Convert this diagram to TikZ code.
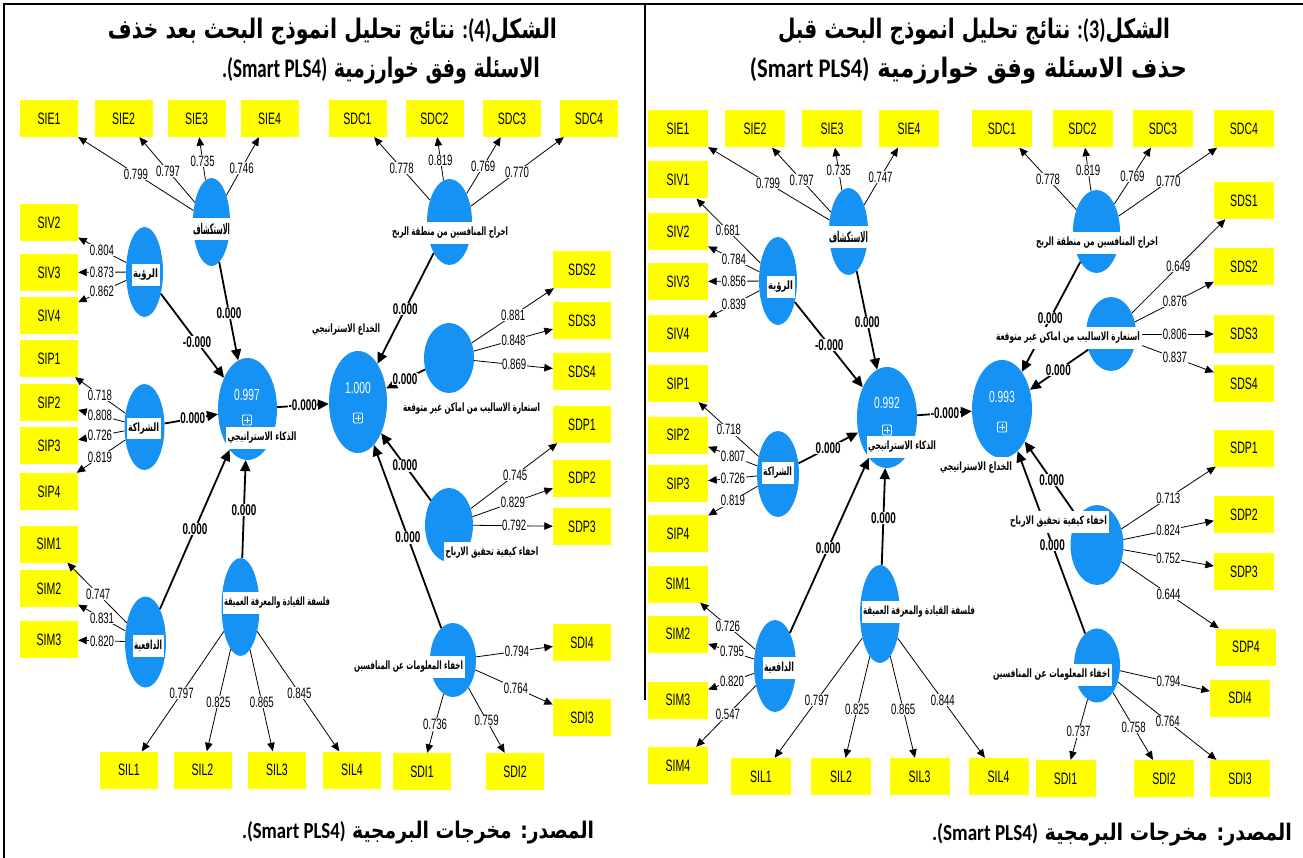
\documentclass[tikz,border=0pt]{standalone}
\usepackage{fontspec}
\usepackage{graphicx}
\usetikzlibrary{shapes.geometric,arrows.meta,calc}
\TeXXeTstate=1
\setmainfont{Liberation Sans}
\newfontfamily\arabicfont[Script=Arabic]{DejaVu Sans}
\newfontfamily\narrowfont[FakeStretch=0.64]{Liberation Sans}
\newfontfamily\titlelat{Carlito}
\definecolor{latblue}{RGB}{22,146,245}
\definecolor{indyellow}{RGB}{255,255,0}
\newcommand\ar[1]{{\arabicfont\bfseries #1}}
\newcommand\lbx[2]{\resizebox*{#1pt}{11.5pt}{\ar{#2}}}
\newcommand\lt[1]{{\titlelat\bfseries #1}}
\newcommand\mlink[4]{\draw[indarrow] (#1) -- (#2); \path (#1.center) -- (#2.center) node[numlbl,pos=#3]{#4};}
\newcommand\slink[4]{\draw[strarrow] (#1) -- (#2); \path (#1.center) -- (#2.center) node[boldlbl,pos=#3]{#4};}
\newcommand\plusicon[1]{\draw[white,line width=0.8pt,rounded corners=1pt] ([shift={(-4.5,-5)}]#1) rectangle ([shift={(4.5,5)}]#1); \draw[white,line width=0.8pt] ([shift={(-2.6,0)}]#1) -- ([shift={(2.6,0)}]#1) ([shift={(0,-2.8)}]#1) -- ([shift={(0,2.8)}]#1);}
\tikzset{
  ybox/.style={fill=indyellow, minimum width=58pt, minimum height=37pt, inner sep=0pt, font=\narrowfont\fontsize{16.5}{16.5}\selectfont},
  rbox/.style={ybox, minimum width=60pt},
  lat/.style={ellipse, fill=latblue, inner sep=0pt},
  latlbl/.style={fill=white, inner xsep=1.5pt, inner ysep=5pt},
  numlbl/.style={fill=white, inner sep=0.6pt, font=\narrowfont\fontsize{15}{15}\selectfont},
  boldlbl/.style={fill=white, inner sep=0.6pt, font=\narrowfont\bfseries\fontsize{15.5}{15.5}\selectfont},
  indarrow/.style={line width=0.8pt, -{Triangle[length=8.5pt,width=7.5pt]}},
  strarrow/.style={line width=1.8pt, -{Triangle[length=11pt,width=10pt]}},
  rsq/.style={text=white, inner sep=0pt, font=\narrowfont\fontsize{16}{16}\selectfont},
  ttl/.style={inner sep=0pt, font=\fontsize{18}{18}\selectfont}
}
\begin{document}
\begin{tikzpicture}[x=1pt,y=-1pt]
\useasboundingbox (0,0) rectangle (1303,858);
\fill[white] (0,0) rectangle (1303,858);
% frame
\draw[line width=2.2pt] (4,858) -- (4,4) -- (1303,4);
\draw[line width=2.2pt] (645,4) -- (645,700);
% titles
\node[ttl] (tl1) at (332.5,32) {\resizebox*{449pt}{27pt}{\ar{\beginR الشكل\beginL\lt{:(4)}\endL{} نتائج تحليل انموذج البحث بعد خذف\endR}}};
\node[ttl] (tl2) at (381,71) {\resizebox*{318pt}{27pt}{\ar{\beginR الاسئلة وفق خوارزمية \beginL\lt{.(Smart PLS4)}\endL\endR}}};
\node[ttl] (tr1) at (974,32) {\resizebox*{392pt}{27pt}{\ar{\beginR الشكل\beginL\lt{:(3)}\endL{} نتائج تحليل انموذج البحث قبل\endR}}};
\node[ttl] (tr2) at (968.5,71) {\resizebox*{437pt}{27pt}{\ar{\beginR حذف الاسئلة وفق خوارزمية \beginL\lt{(Smart PLS4)}\endL\endR}}};
\node[ttl] (fl) at (418,833) {\resizebox*{352pt}{23pt}{\ar{\beginR المصدر\kern0pt: مخرجات البرمجية \beginL\lt{.(Smart PLS4)}\endL\endR}}};
\node[ttl] (fr) at (1112,835) {\resizebox*{360pt}{23pt}{\ar{\beginR المصدر\kern0pt: مخرجات البرمجية \beginL\lt{.(Smart PLS4)}\endL\endR}}};
% ===== LEFT PANEL =====
\node[ybox] (LSIE1) at (49,118.5) {SIE1};
\node[ybox] (LSIE2) at (123.5,118.5) {SIE2};
\node[ybox] (LSIE3) at (196.5,118.5) {SIE3};
\node[ybox] (LSIE4) at (269.5,118.5) {SIE4};
\node[ybox] (LSDC1) at (357.5,118.5) {SDC1};
\node[ybox] (LSDC2) at (434.5,118.5) {SDC2};
\node[ybox] (LSDC3) at (512,118.5) {SDC3};
\node[ybox] (LSDC4) at (589,118.5) {SDC4};
\node[ybox] (LSIV2) at (49,222.5) {SIV2};
\node[ybox] (LSIV3) at (49,272.5) {SIV3};
\node[ybox] (LSIV4) at (49,315.5) {SIV4};
\node[ybox] (LSIP1) at (49,358.5) {SIP1};
\node[ybox] (LSIP2) at (49,402.5) {SIP2};
\node[ybox] (LSIP3) at (49,445.5) {SIP3};
\node[ybox] (LSIP4) at (49,491.5) {SIP4};
\node[ybox] (LSIM1) at (49,544) {SIM1};
\node[ybox] (LSIM2) at (49,588.5) {SIM2};
\node[ybox] (LSIM3) at (49,639.5) {SIM3};
\node[ybox] (LSIL1) at (129,770) {SIL1};
\node[ybox] (LSIL2) at (202.5,770) {SIL2};
\node[ybox] (LSIL3) at (277,770) {SIL3};
\node[ybox] (LSIL4) at (352,770) {SIL4};
\node[ybox] (LSDI1) at (422,771.5) {SDI1};
\node[ybox] (LSDI2) at (515,771.5) {SDI2};
\node[ybox] (LSDS2) at (582,269.5) {SDS2};
\node[ybox] (LSDS3) at (582,321) {SDS3};
\node[ybox] (LSDS4) at (582,371.5) {SDS4};
\node[ybox] (LSDP1) at (582,424.5) {SDP1};
\node[ybox] (LSDP2) at (582,478) {SDP2};
\node[ybox] (LSDP3) at (582,526.5) {SDP3};
\node[ybox] (LSDI4) at (582,642.5) {SDI4};
\node[ybox] (LSDI3) at (582,717.5) {SDI3};
\node[lat,minimum width=37pt,minimum height=88pt] (LEXP) at (211.5,222) {};
\node[lat,minimum width=37pt,minimum height=90pt] (LVIS) at (144.5,272) {};
\node[lat,minimum width=40pt,minimum height=86pt] (LPAR) at (144.5,427) {};
\node[lat,minimum width=59pt,minimum height=102pt] (LSIN) at (247.5,409) {};
\node[lat,minimum width=58pt,minimum height=102pt] (LSDE) at (358,402) {};
\node[lat,minimum width=45pt,minimum height=86pt] (LSDC) at (449.5,222) {};
\node[lat,minimum width=50pt,minimum height=70pt] (LSDS) at (449,358) {};
\node[lat,minimum width=48pt,minimum height=74pt] (LSDP) at (449,525) {};
\node[lat,minimum width=46pt,minimum height=74pt] (LSDI) at (453,660) {};
\node[lat,minimum width=38pt,minimum height=98pt] (LSIL) at (240.5,607) {};
\node[lat,minimum width=41pt,minimum height=91pt] (LSIM) at (145.5,642) {};
\node[rsq] (LSINr) at (247,395) {0.997};
\coordinate (LSINp) at (247,420); \plusicon{LSINp}
\node[rsq] (LSDEr) at (358,388) {1.000};
\coordinate (LSDEp) at (358,418); \plusicon{LSDEp}
\mlink{LEXP}{LSIE1}{0.465}{0.799}
\mlink{LEXP}{LSIE2}{0.494}{0.797}
\mlink{LEXP}{LSIE3}{0.59}{0.735}
\mlink{LEXP}{LSIE4}{0.52}{0.746}
\mlink{LVIS}{LSIV2}{0.445}{0.804}
\mlink{LVIS}{LSIV3}{0.445}{0.873}
\mlink{LVIS}{LSIV4}{0.445}{0.862}
\mlink{LPAR}{LSIP1}{0.466}{0.718}
\mlink{LPAR}{LSIP2}{0.466}{0.808}
\mlink{LPAR}{LSIP3}{0.466}{0.726}
\mlink{LPAR}{LSIP4}{0.466}{0.819}
\mlink{LSIM}{LSIM1}{0.49}{0.747}
\mlink{LSIM}{LSIM2}{0.45}{0.831}
\mlink{LSIM}{LSIM3}{0.45}{0.820}
\mlink{LSIL}{LSIL1}{0.528}{0.797}
\mlink{LSIL}{LSIL2}{0.583}{0.825}
\mlink{LSIL}{LSIL3}{0.583}{0.865}
\mlink{LSIL}{LSIL4}{0.528}{0.845}
\mlink{LSDI}{LSDI1}{0.58}{0.736}
\mlink{LSDI}{LSDI2}{0.542}{0.759}
\mlink{LSDI}{LSDI4}{0.496}{0.794}
\mlink{LSDI}{LSDI3}{0.488}{0.764}
\mlink{LSDC}{LSDC1}{0.52}{0.778}
\mlink{LSDC}{LSDC2}{0.6}{0.819}
\mlink{LSDC}{LSDC3}{0.54}{0.769}
\mlink{LSDC}{LSDC4}{0.484}{0.770}
\mlink{LSDS}{LSDS2}{0.483}{0.881}
\mlink{LSDS}{LSDS3}{0.485}{0.848}
\mlink{LSDS}{LSDS4}{0.49}{0.869}
\mlink{LSDP}{LSDP1}{0.498}{0.745}
\mlink{LSDP}{LSDP2}{0.48}{0.829}
\mlink{LSDP}{LSDP3}{0.49}{0.792}
\slink{LEXP}{LSIN}{0.485}{0.000}
\slink{LVIS}{LSIN}{0.51}{-0.000}
\slink{LPAR}{LSIN}{0.468}{0.000}
\slink{LSIM}{LSIN}{0.485}{0.000}
\slink{LSIL}{LSIN}{0.49}{0.000}
\slink{LSIN}{LSDE}{0.5}{-0.000}
\slink{LSDC}{LSDE}{0.483}{0.000}
\slink{LSDS}{LSDE}{0.483}{0.000}
\slink{LSDP}{LSDE}{0.483}{0.000}
\slink{LSDI}{LSDE}{0.475}{0.000}
\node[latlbl] (LEXPl) at (211.5,229) {\lbx{37}{\beginR الاستكشاف\endR}};
\node[latlbl] (LVISl) at (145.5,275) {\lbx{25}{\beginR الرؤية\endR}};
\node[latlbl] (LPARl) at (143.5,428.5) {\lbx{31}{\beginR الشراكة\endR}};
\node[latlbl] (LSINl) at (262,438) {\lbx{69}{\beginR الذكاء الاستراتيجي\endR}};
\node[latlbl] (LSDEl) at (346,330) {\lbx{68}{\beginR الخداع الاستراتيجي\endR}};
\node[latlbl] (LSDCl) at (450,233) {\lbx{116}{\beginR اخراج المنافسين من منطقة الربح\endR}};
\node[latlbl] (LSDSl) at (471.5,409) {\lbx{137}{\beginR استعارة الاساليب من اماكن غير متوقعة\endR}};
\node[latlbl] (LSDPl) at (492,553) {\lbx{93}{\beginR اخفاء كيفية تحقيق الارباح\endR}};
\node[latlbl] (LSDIl) at (408.5,667) {\lbx{109}{\beginR اخفاء المعلومات عن المنافسين\endR}};
\node[latlbl] (LSILl) at (277,603) {\lbx{106}{\beginR فلسفة القيادة والمعرفة العميقة\endR}};
\node[latlbl] (LSIMl) at (148,646) {\lbx{28}{\beginR الدافعية\endR}};
% ===== RIGHT PANEL =====
\node[rbox] (RSIE1) at (678,129) {SIE1};
\node[rbox] (RSIE2) at (755,129) {SIE2};
\node[rbox] (RSIE3) at (832,129) {SIE3};
\node[rbox] (RSIE4) at (909,129) {SIE4};
\node[rbox] (RSDC1) at (1002,129) {SDC1};
\node[rbox] (RSDC2) at (1082.5,129) {SDC2};
\node[rbox] (RSDC3) at (1163,129) {SDC3};
\node[rbox] (RSDC4) at (1244,129) {SDC4};
\node[rbox] (RSIV1) at (678,180) {SIV1};
\node[rbox] (RSIV2) at (678,231.5) {SIV2};
\node[rbox] (RSIV3) at (678,281.5) {SIV3};
\node[rbox] (RSIV4) at (678,333.5) {SIV4};
\node[rbox] (RSIP1) at (678,383.5) {SIP1};
\node[rbox] (RSIP2) at (678,435) {SIP2};
\node[rbox] (RSIP3) at (678,483.5) {SIP3};
\node[rbox] (RSIP4) at (678,533.5) {SIP4};
\node[rbox] (RSIM1) at (678,584) {SIM1};
\node[rbox] (RSIM2) at (678,634) {SIM2};
\node[rbox] (RSIM3) at (678,700) {SIM3};
\node[rbox] (RSIM4) at (678,765.5) {SIM4};
\node[rbox] (RSIL1) at (761,776.5) {SIL1};
\node[rbox] (RSIL2) at (841,776.5) {SIL2};
\node[rbox] (RSIL3) at (919.5,776.5) {SIL3};
\node[rbox] (RSIL4) at (998.5,776.5) {SIL4};
\node[rbox] (RSDI1) at (1065.5,778.5) {SDI1};
\node[rbox] (RSDI2) at (1164,778.5) {SDI2};
\node[rbox] (RSDI3) at (1240,778.5) {SDI3};
\node[rbox] (RSDI4) at (1240,698) {SDI4};
\node[rbox] (RSDS1) at (1244,200.5) {SDS1};
\node[rbox] (RSDS2) at (1244,266.5) {SDS2};
\node[rbox] (RSDS3) at (1244,334) {SDS3};
\node[rbox] (RSDS4) at (1244,383.5) {SDS4};
\node[rbox] (RSDP1) at (1244,448) {SDP1};
\node[rbox] (RSDP2) at (1244,514.5) {SDP2};
\node[rbox] (RSDP3) at (1244,571.5) {SDP3};
\node[rbox] (RSDP4) at (1246,647) {SDP4};
\node[lat,minimum width=39pt,minimum height=87pt] (REXP) at (848.5,231.5) {};
\node[lat,minimum width=38pt,minimum height=88pt] (RVIS) at (778,281) {};
\node[lat,minimum width=42pt,minimum height=86pt] (RPAR) at (778,474) {};
\node[lat,minimum width=60pt,minimum height=101pt] (RSIN) at (887,417.5) {};
\node[lat,minimum width=60pt,minimum height=98pt] (RSDE) at (1002,409) {};
\node[lat,minimum width=47pt,minimum height=83pt] (RSDC) at (1096.5,231.5) {};
\node[lat,minimum width=50pt,minimum height=74pt] (RSDS) at (1111,334) {};
\node[lat,minimum width=53pt,minimum height=80pt] (RSDP) at (1097,545) {};
\node[lat,minimum width=46pt,minimum height=74pt] (RSDI) at (1097,665.5) {};
\node[lat,minimum width=40pt,minimum height=98pt] (RSIL) at (880,614) {};
\node[lat,minimum width=42pt,minimum height=92pt] (RSIM) at (775,666) {};
\node[rsq] (RSINr) at (887,403) {0.992};
\coordinate (RSINp) at (887,430); \plusicon{RSINp}
\node[rsq] (RSDEr) at (1002,397) {0.993};
\coordinate (RSDEp) at (1002,427); \plusicon{RSDEp}
\mlink{REXP}{RSIE1}{0.472}{0.799}
\mlink{REXP}{RSIE2}{0.5}{0.797}
\mlink{REXP}{RSIE3}{0.593}{0.735}
\mlink{REXP}{RSIE4}{0.529}{0.747}
\mlink{RVIS}{RSIV1}{0.5}{0.681}
\mlink{RVIS}{RSIV2}{0.44}{0.784}
\mlink{RVIS}{RSIV3}{0.44}{0.856}
\mlink{RVIS}{RSIV4}{0.44}{0.839}
\mlink{RPAR}{RSIP1}{0.49}{0.718}
\mlink{RPAR}{RSIP2}{0.45}{0.807}
\mlink{RPAR}{RSIP3}{0.45}{0.726}
\mlink{RPAR}{RSIP4}{0.45}{0.819}
\mlink{RSIM}{RSIM1}{0.485}{0.726}
\mlink{RSIM}{RSIM2}{0.443}{0.795}
\mlink{RSIM}{RSIM3}{0.443}{0.820}
\mlink{RSIM}{RSIM4}{0.485}{0.547}
\mlink{RSIL}{RSIL1}{0.53}{0.797}
\mlink{RSIL}{RSIL2}{0.587}{0.825}
\mlink{RSIL}{RSIL3}{0.587}{0.865}
\mlink{RSIL}{RSIL4}{0.53}{0.844}
\mlink{RSDI}{RSDI1}{0.586}{0.737}
\mlink{RSDI}{RSDI2}{0.547}{0.758}
\mlink{RSDI}{RSDI3}{0.495}{0.764}
\mlink{RSDI}{RSDI4}{0.5}{0.794}
\mlink{RSDC}{RSDC1}{0.513}{0.778}
\mlink{RSDC}{RSDC2}{0.6}{0.819}
\mlink{RSDC}{RSDC3}{0.541}{0.769}
\mlink{RSDC}{RSDC4}{0.487}{0.770}
\mlink{RSDS}{RSDS1}{0.506}{0.649}
\mlink{RSDS}{RSDS2}{0.481}{0.876}
\mlink{RSDS}{RSDS3}{0.481}{0.806}
\mlink{RSDS}{RSDS4}{0.481}{0.837}
\mlink{RSDP}{RSDP1}{0.485}{0.713}
\mlink{RSDP}{RSDP2}{0.485}{0.824}
\mlink{RSDP}{RSDP3}{0.485}{0.752}
\mlink{RSDP}{RSDP4}{0.48}{0.644}
\slink{REXP}{RSIN}{0.485}{0.000}
\slink{RVIS}{RSIN}{0.47}{-0.000}
\slink{RPAR}{RSIN}{0.46}{0.000}
\slink{RSIM}{RSIN}{0.476}{0.000}
\slink{RSIL}{RSIN}{0.487}{0.000}
\slink{RSIN}{RSDE}{0.504}{-0.000}
\slink{RSDC}{RSDE}{0.489}{0.000}
\slink{RSDS}{RSDE}{0.483}{0.000}
\slink{RSDP}{RSDE}{0.477}{0.000}
\slink{RSDI}{RSDE}{0.47}{0.000}
\node[latlbl] (REXPl) at (848.5,237) {\lbx{39}{\beginR الاستكشاف\endR}};
\node[latlbl] (RVISl) at (780.5,287) {\lbx{25}{\beginR الرؤية\endR}};
\node[latlbl] (RPARl) at (777.5,473) {\lbx{29}{\beginR الشراكة\endR}};
\node[latlbl] (RSINl) at (902,447) {\lbx{68}{\beginR الذكاء الاستراتيجي\endR}};
\node[latlbl] (RSDEl) at (976,468) {\lbx{72}{\beginR الخداع الاستراتيجي\endR}};
\node[latlbl] (RSDCl) at (1097,243) {\lbx{122}{\beginR اخراج المنافسين من منطقة الربح\endR}};
\node[latlbl] (RSDSl) at (1068,338) {\lbx{144}{\beginR استعارة الاساليب من اماكن غير متوقعة\endR}};
\node[latlbl] (RSDPl) at (1058.5,522) {\lbx{97}{\beginR اخفاء كيفية تحقيق الارباح\endR}};
\node[latlbl] (RSDIl) at (1051.5,675) {\lbx{117}{\beginR اخفاء المعلومات عن المنافسين\endR}};
\node[latlbl] (RSILl) at (919,612) {\lbx{112}{\beginR فلسفة القيادة والمعرفة العميقة\endR}};
\node[latlbl] (RSIMl) at (779,668) {\lbx{30}{\beginR الدافعية\endR}};
\end{tikzpicture}
\end{document}
